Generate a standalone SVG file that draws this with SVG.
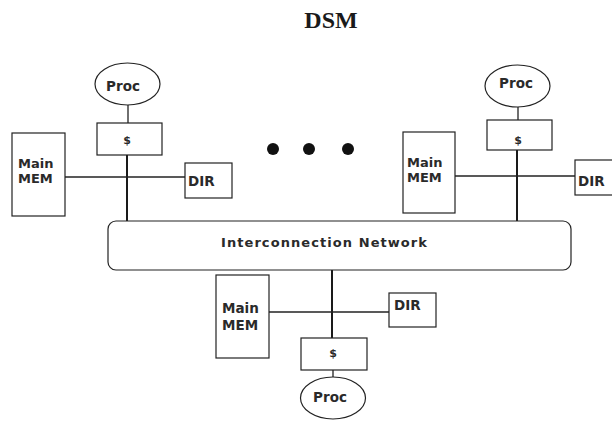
<svg xmlns="http://www.w3.org/2000/svg" width="612" height="429" viewBox="0 0 612 429">
  <style>
    .box { fill: #ffffff; stroke: #222222; stroke-width: 1.2; }
    .wire { fill: none; stroke: #222222; stroke-width: 1.3; }
    .bus { fill: none; stroke: #1a1a1a; stroke-width: 2; }
    .lbl { font-family: "DejaVu Sans", "Liberation Sans", sans-serif; font-weight: bold; fill: #2a2a2a; }
    .title { font-family: "Liberation Serif", "Times New Roman", serif; font-weight: bold; font-size: 24px; fill: #1a1a1a; }
    .dot { fill: #111111; }
  </style>

  <rect x="0" y="0" width="612" height="429" fill="#ffffff"/>

  <text class="title" x="331" y="28" text-anchor="middle">DSM</text>

  <!-- connectors -->
  <g id="connectors">
    <!-- left node -->
    <line class="wire" x1="128" y1="105" x2="128" y2="123"/>
    <line class="bus" x1="127" y1="155" x2="127" y2="222"/>
    <line class="wire" x1="65" y1="177" x2="185" y2="177"/>
    <!-- right node -->
    <line class="wire" x1="518" y1="107" x2="518" y2="120"/>
    <line class="bus" x1="517" y1="150" x2="517" y2="221"/>
    <line class="wire" x1="455" y1="176" x2="575" y2="176"/>
    <!-- bottom node -->
    <line class="bus" x1="332" y1="270" x2="332" y2="338"/>
    <line class="wire" x1="269" y1="312" x2="389" y2="312"/>
    <line class="wire" x1="333" y1="370" x2="333" y2="377"/>
  </g>

  <!-- interconnection network -->
  <g id="network">
    <rect class="box" x="108" y="221" width="463" height="49" rx="8" ry="8"/>
    <text class="lbl" x="221" y="246.5" font-size="13" textLength="206" lengthAdjust="spacing">Interconnection  Network</text>
  </g>

  <!-- left node -->
  <g id="proc-left">
    <ellipse class="box" cx="127.5" cy="84" rx="32.5" ry="21"/>
    <text class="lbl" x="123" y="91" font-size="13.5" text-anchor="middle">Proc</text>
  </g>
  <g id="cache-left">
    <rect class="box" x="97" y="123" width="65" height="32"/>
    <text class="lbl" x="127" y="144" font-size="11" text-anchor="middle">$</text>
  </g>
  <g id="mem-left">
    <rect class="box" x="12" y="133" width="53" height="83"/>
    <text class="lbl" x="18" y="168" font-size="13">Main</text>
    <text class="lbl" x="18" y="183" font-size="13">MEM</text>
  </g>
  <g id="dir-left">
    <rect class="box" x="185" y="163" width="47" height="35"/>
    <text class="lbl" x="188" y="186" font-size="13.5">DIR</text>
  </g>

  <!-- right node -->
  <g id="proc-right">
    <ellipse class="box" cx="517.5" cy="86" rx="32.5" ry="21"/>
    <text class="lbl" x="516" y="88" font-size="13.5" text-anchor="middle">Proc</text>
  </g>
  <g id="cache-right">
    <rect class="box" x="487" y="120" width="65" height="30"/>
    <text class="lbl" x="518" y="144" font-size="11" text-anchor="middle">$</text>
  </g>
  <g id="mem-right">
    <rect class="box" x="403" y="132" width="52" height="81"/>
    <text class="lbl" x="407" y="167" font-size="13">Main</text>
    <text class="lbl" x="407" y="182" font-size="13">MEM</text>
  </g>
  <g id="dir-right">
    <rect class="box" x="575" y="160" width="45" height="35"/>
    <text class="lbl" x="578" y="186" font-size="13.5">DIR</text>
  </g>

  <!-- bottom node -->
  <g id="mem-bottom">
    <rect class="box" x="216" y="275" width="53" height="83"/>
    <text class="lbl" x="222" y="313" font-size="13.5">Main</text>
    <text class="lbl" x="222" y="330" font-size="13.5">MEM</text>
  </g>
  <g id="dir-bottom">
    <rect class="box" x="389" y="293" width="47" height="34"/>
    <text class="lbl" x="394" y="310" font-size="13.5">DIR</text>
  </g>
  <g id="cache-bottom">
    <rect class="box" x="301" y="338" width="66" height="32"/>
    <text class="lbl" x="333" y="357" font-size="11" text-anchor="middle">$</text>
  </g>
  <g id="proc-bottom">
    <ellipse class="box" cx="333" cy="398" rx="32.5" ry="21"/>
    <text class="lbl" x="330" y="402" font-size="13.5" text-anchor="middle">Proc</text>
  </g>

  <!-- ellipsis marking further nodes -->
  <g id="more-nodes">
    <circle class="dot" cx="273" cy="149" r="6"/>
    <circle class="dot" cx="309" cy="149" r="6"/>
    <circle class="dot" cx="348" cy="149" r="6"/>
  </g>
</svg>
